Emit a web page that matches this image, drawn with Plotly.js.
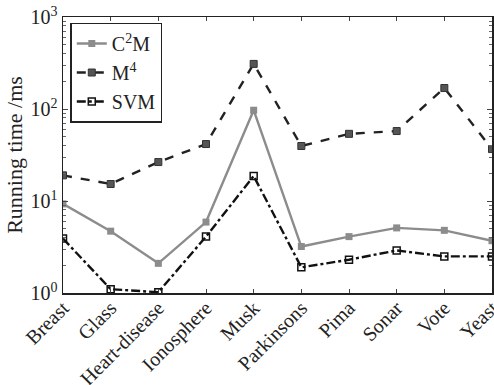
<!DOCTYPE html>
<html><head><meta charset="utf-8">
<script src="https://cdn.plot.ly/plotly-3.0.1.min.js"></script>
<style>html,body{margin:0;padding:0;background:#fff}#c{width:494px;height:385px}</style>
</head><body><div id="c"></div>
<script>
const categories = ["Breast","Glass","Heart-disease","Ionosphere","Musk","Parkinsons","Pima","Sonar","Vote","Yeast"];
const c2m = [9.3, 4.7, 2.1, 5.9, 97, 3.2, 4.1, 5.1, 4.8, 3.7];
const m4 = [19, 15.3, 26.5, 41.6, 309, 39.6, 53.7, 57.6, 169, 36.7];
const svm = [3.9, 1.1, 1.02, 4.1, 18.7, 1.9, 2.3, 2.9, 2.5, 2.5];
const yTickVals = [1, 10, 100, 1000];
const yTickText = ["10<sup>0</sup>","10<sup>1</sup>","10<sup>2</sup>","10<sup>3</sup>"];
const font = "'Liberation Serif', 'Times New Roman', serif";
const traces = [
  {x: categories, y: c2m, name: "C<sup>2</sup>M", mode: "lines+markers",
   line: {color: "#8c8c8c", width: 2.4, dash: "solid"},
   marker: {symbol: "square", size: 7, color: "#8c8c8c"}},
  {x: categories, y: m4, name: "M<sup>4</sup>", mode: "lines+markers",
   line: {color: "#222", width: 2.4, dash: "dash"},
   marker: {symbol: "square", size: 7, color: "#555", line: {color: "#333", width: 1}}},
  {x: categories, y: svm, name: "SVM", mode: "lines+markers",
   line: {color: "#111", width: 2.4, dash: "dashdot"},
   marker: {symbol: "square-open", size: 7, color: "#111", line: {width: 1.5}}}
];
const layout = {
  width: 494, height: 385,
  margin: {l: 63, r: 2, t: 17, b: 92},
  paper_bgcolor: "#fff", plot_bgcolor: "#fff",
  font: {family: font, color: "#222", size: 20},
  showlegend: true,
  legend: {x: 0.017, y: 0.98, xanchor: "left", yanchor: "top",
    bordercolor: "#222", borderwidth: 1.5, bgcolor: "#fff",
    font: {family: font, size: 20, color: "#222"}, tracegroupgap: 0},
  xaxis: {type: "category", range: [0, 9], showgrid: false, zeroline: false, automargin: false,
    tickangle: -45, ticks: "inside", ticklen: 4, tickcolor: "#444", ticklabelstandoff: -6,
    showline: true, linecolor: "#222", linewidth: 1.5, mirror: "ticks",
    tickfont: {family: font, size: 20, color: "#222"}},
  yaxis: {type: "log", range: [0, 3], showgrid: false, zeroline: false, automargin: false,
    tickvals: yTickVals, ticktext: yTickText,
    ticks: "inside", ticklen: 5, tickcolor: "#444",
    minor: {ticks: "inside", ticklen: 3, tickcolor: "#666", dtick: "D1"},
    showline: true, linecolor: "#222", linewidth: 1.5, mirror: "ticks",
    tickfont: {family: font, size: 20, color: "#222"},
    title: {text: "Running time /ms", font: {family: font, size: 22, color: "#222"}, standoff: 2}}
};
Plotly.newPlot("c", traces, layout, {displayModeBar: false, staticPlot: true});
</script></body></html>
